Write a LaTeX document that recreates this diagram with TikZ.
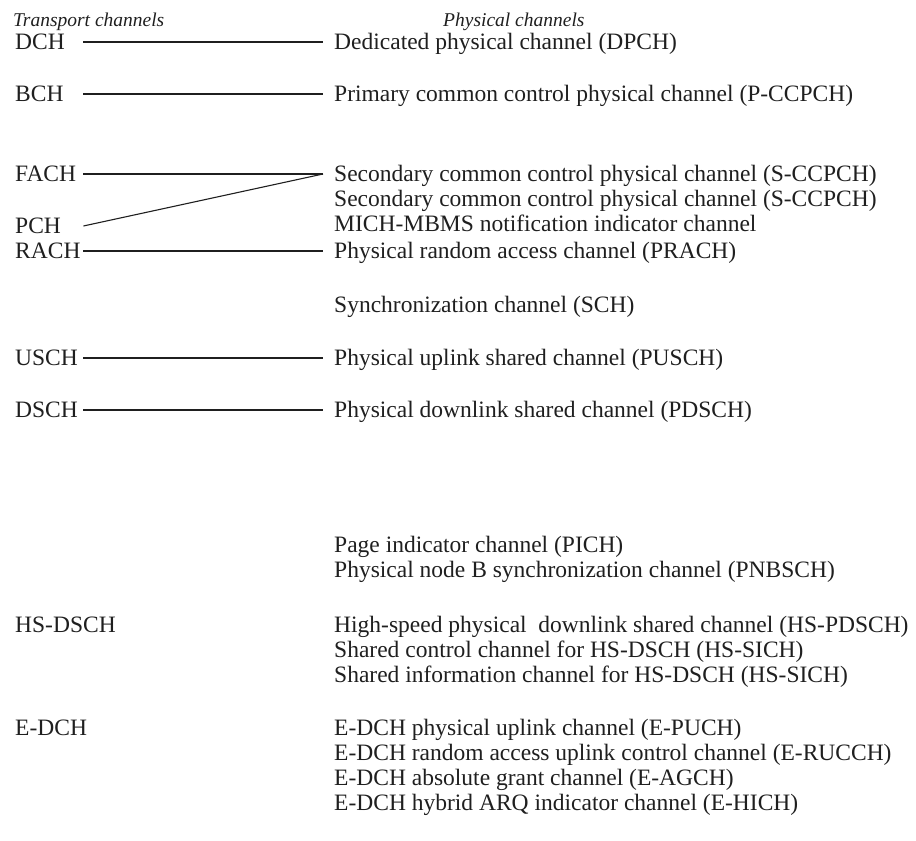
\documentclass[tikz,border=0pt]{standalone}
\usepackage{fontspec}
\setmainfont{Liberation Serif}
\usetikzlibrary{positioning}

\begin{document}
\begin{tikzpicture}[x=1pt, y=-1pt,
  every node/.style={font=\fontsize{23.5}{26}\selectfont, text height=18pt, text depth=4pt, text=black!88},
  trch/.style={anchor=west, inner xsep=0pt, text width=68pt, align=left},
  trfree/.style={anchor=west, inner xsep=0pt},
  phch/.style={anchor=west, inner xsep=11pt},
  head/.style={anchor=west, inner xsep=0pt, font=\fontsize{19.5}{24}\selectfont\itshape},
  link/.style={line width=1.1pt, black!88}]
  \useasboundingbox (0,0) rectangle (916,841);
  % headings
  \node[head] (trhead) at (13,19) {Transport channels};
  \node[head] (phhead) at (443,19) {Physical channels};
  % transport channels
  \node[trch] (dch)  at (15,42)  {DCH};
  \node[trch] (bch)  at (15,94)  {BCH};
  \node[trch] (fach) at (15,174) {FACH};
  \node[trch] (pch)  at (15,226) {PCH};
  \node[trch] (rach) at (15,251) {RACH};
  \node[trch] (usch) at (15,358) {USCH};
  \node[trch] (dsch) at (15,410) {DSCH};
  \node[trfree] (hsdsch) at (15,625) {HS-DSCH};
  \node[trfree] (edch)   at (15,728) {E-DCH};
  % physical channels
  \node[phch] (dpch)    at (323,42)  {Dedicated physical channel (DPCH)};
  \node[phch] (pccpch)  at (323,94)  {Primary common control physical channel (P-CCPCH)};
  \node[phch] (sccpcha) at (323,174) {Secondary common control physical channel (S-CCPCH)};
  \node[phch] (sccpchb) at (323,199) {Secondary common control physical channel (S-CCPCH)};
  \node[phch] (mich)    at (323,224) {MICH-MBMS notification indicator channel};
  \node[phch] (prach)   at (323,251) {Physical random access channel (PRACH)};
  \node[phch] (sch)     at (323,305) {Synchronization channel (SCH)};
  \node[phch] (pusch)   at (323,358) {Physical uplink shared channel (PUSCH)};
  \node[phch] (pdsch)   at (323,410) {Physical downlink shared channel (PDSCH)};
  \node[phch] (pich)    at (323,545) {Page indicator channel (PICH)};
  \node[phch] (pnbsch)  at (323,570) {Physical node B synchronization channel (PNBSCH)};
  \node[phch] (hspdsch) at (323,625) {High-speed physical\ \ downlink shared channel (HS-PDSCH)};
  \node[phch] (hsscch)  at (323,650) {Shared control channel for HS-DSCH (HS-SICH)};
  \node[phch] (hssich)  at (323,675) {Shared information channel for HS-DSCH (HS-SICH)};
  \node[phch] (epuch)   at (323,728) {E-DCH physical uplink channel (E-PUCH)};
  \node[phch] (erucch)  at (323,753) {E-DCH random access uplink control channel (E-RUCCH)};
  \node[phch] (eagch)   at (323,778) {E-DCH absolute grant channel (E-AGCH)};
  \node[phch] (ehich)   at (323,803) {E-DCH hybrid ARQ indicator channel (E-HICH)};
  % mappings
  \draw[link] (dch.east) -- (dpch.west);
  \draw[link] (bch.east) -- (pccpch.west);
  \draw[link] (fach.east) -- (sccpcha.west);
  \draw[link] (pch.east) -- (sccpcha.west);
  \draw[link] (rach.east) -- (prach.west);
  \draw[link] (usch.east) -- (pusch.west);
  \draw[link] (dsch.east) -- (pdsch.west);
\end{tikzpicture}
\end{document}
